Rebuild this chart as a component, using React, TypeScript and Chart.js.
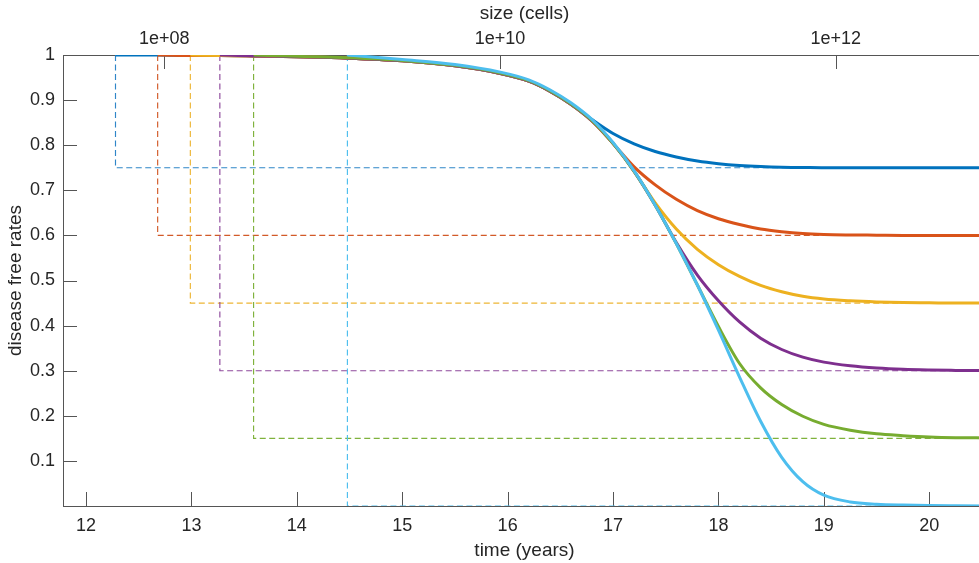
import React, { useEffect, useRef } from "react";
import { Chart, registerables } from "chart.js";

Chart.register(...registerables);

// ---- data ----
const timeGrid = [12.28, 12.68, 12.99, 13.27, 13.59, 14.0, 14.48, 15.0, 15.5, 15.93, 16.2, 16.4, 16.6, 16.8, 17.0, 17.2, 17.4, 17.6, 17.8, 18.0, 18.2, 18.4, 18.6, 18.8, 19.0, 19.25, 19.5, 19.75, 20.0, 20.25, 20.54];

const N = null;
const rate75 = [1.0, 1.0, 0.999, 0.999, 0.998, 0.996, 0.993, 0.987, 0.976, 0.959, 0.942, 0.92, 0.891, 0.857, 0.826, 0.803, 0.786, 0.774, 0.765, 0.759, 0.755, 0.7525, 0.751, 0.7505, 0.75, 0.75, 0.75, 0.75, 0.75, 0.75, 0.75];
const rate60 = [N, 1.0, 0.999, 0.999, 0.998, 0.996, 0.993, 0.987, 0.976, 0.959, 0.942, 0.92, 0.891, 0.854, 0.804, 0.752, 0.712, 0.68, 0.655, 0.637, 0.624, 0.614, 0.608, 0.604, 0.602, 0.601, 0.6005, 0.6, 0.6, 0.6, 0.6];
const rate45 = [N, N, 1.0, 0.999, 0.998, 0.996, 0.993, 0.987, 0.976, 0.959, 0.942, 0.92, 0.891, 0.854, 0.804, 0.742, 0.672, 0.614, 0.569, 0.535, 0.509, 0.489, 0.475, 0.465, 0.459, 0.455, 0.4525, 0.451, 0.4505, 0.45, 0.45];
const rate30 = [N, N, N, 1.0, 0.998, 0.996, 0.993, 0.987, 0.976, 0.959, 0.942, 0.92, 0.891, 0.854, 0.804, 0.742, 0.667, 0.584, 0.512, 0.455, 0.408, 0.372, 0.347, 0.33, 0.319, 0.311, 0.306, 0.303, 0.3015, 0.3007, 0.3];
const rate15 = [N, N, N, N, 1.0, 0.997, 0.994, 0.988, 0.977, 0.96, 0.943, 0.921, 0.892, 0.855, 0.804, 0.742, 0.667, 0.582, 0.49, 0.398, 0.316, 0.262, 0.225, 0.199, 0.181, 0.168, 0.16, 0.156, 0.153, 0.1515, 0.151];
const rate00 = [N, N, N, N, N, N, 1.0, 0.99, 0.979, 0.962, 0.945, 0.923, 0.894, 0.857, 0.806, 0.743, 0.667, 0.582, 0.49, 0.39, 0.286, 0.188, 0.108, 0.054, 0.024, 0.009, 0.004, 0.002, 0.001, 0.0005, 0.0];

const seriesValues = [rate75, rate60, rate45, rate30, rate15, rate00];
const startTimes = [12.28, 12.68, 12.99, 13.27, 13.59, 14.48];
const plateaus = [0.75, 0.6, 0.45, 0.3, 0.15, 0.0];
const seriesColors = ["#0072BD", "#D95319", "#EDB120", "#7E2F8E", "#77AC30", "#4DBEEE"];
const dashColors = ["#2F86C8", "#D25A28", "#EDB535", "#8E4A9C", "#7FB23C", "#4DBEEE"];

const bottomTicks = [12, 13, 14, 15, 16, 17, 18, 19, 20];
const bottomTickLabels = ["12", "13", "14", "15", "16", "17", "18", "19", "20"];
const topTickTimes = [12.743, 15.928, 19.113];
const topTickLabels = ["1e+08", "1e+10", "1e+12"];
const yTicks = [0.1, 0.2, 0.3, 0.4, 0.5, 0.6, 0.7, 0.8, 0.9, 1.0];
const yTickLabels = ["0.1", "0.2", "0.3", "0.4", "0.5", "0.6", "0.7", "0.8", "0.9", "1"];

const xMin = 11.782;
const xMax = 20.538;

const textColor = "#262626";
const axisColor = "#555555";
const FONT = '"Liberation Sans", Arial, Helvetica, sans-serif';

const inwardTicks = {
  id: "inwardTicks",
  beforeDatasetsDraw(chart: any) {
    const { ctx, chartArea: a, scales } = chart;
    const len = 14;
    ctx.save();
    ctx.strokeStyle = axisColor;
    ctx.lineWidth = 1;
    ctx.beginPath();
    scales.x.ticks.forEach((t: any) => {
      const p = Math.round(scales.x.getPixelForValue(t.value)) + 0.5;
      ctx.moveTo(p, a.bottom);
      ctx.lineTo(p, a.bottom - len);
    });
    scales.xTop.ticks.forEach((t: any) => {
      const p = Math.round(scales.xTop.getPixelForValue(t.value)) + 0.5;
      ctx.moveTo(p, a.top);
      ctx.lineTo(p, a.top + len);
    });
    scales.y.ticks.forEach((t: any) => {
      const p = Math.round(scales.y.getPixelForValue(t.value)) + 0.5;
      ctx.moveTo(a.left, p);
      ctx.lineTo(a.left + len, p);
    });
    ctx.stroke();
    ctx.restore();
  },
};

export default function App() {
  const ref = useRef<HTMLCanvasElement | null>(null);

  useEffect(() => {
    if (!ref.current) return;
    const solid = seriesValues.map((vals, i) => ({
      type: "line" as const,
      data: timeGrid
        .map((t, k) => ({ x: t, y: vals[k] }))
        .filter((p) => p.y !== null),
      borderColor: seriesColors[i],
      borderWidth: 3,
      pointRadius: 0,
      fill: false,
      cubicInterpolationMode: "monotone" as const,
      order: 5 - i,
    }));
    const dashed = startTimes.map((t0, i) => ({
      type: "line" as const,
      data: [
        { x: t0, y: 1 },
        { x: t0, y: plateaus[i] },
        { x: xMax, y: plateaus[i] },
      ],
      borderColor: dashColors[i],
      borderWidth: 1.15,
      borderDash: [6, 3.5],
      pointRadius: 0,
      fill: false,
      tension: 0,
      order: 20 - i,
    }));

    const tickFont = { family: FONT, size: 18 };
    const titleFont = { family: FONT, size: 19 };

    const chart = new Chart(ref.current, {
      type: "line",
      data: { datasets: [...dashed, ...solid] as any },
      options: {
        animation: false,
        responsive: false,
        events: [],
        layout: { padding: 0 },
        plugins: { legend: { display: false }, tooltip: { enabled: false } },
        scales: {
          x: {
            type: "linear",
            position: "bottom",
            min: xMin,
            max: xMax,
            afterBuildTicks: (s: any) => {
              s.ticks = bottomTicks.map((v) => ({ value: v }));
            },
            afterFit: (s: any) => {
              s.height = 57;
            },
            ticks: {
              autoSkip: false,
              maxRotation: 0,
              padding: 9,
              color: textColor,
              font: tickFont,
              callback: (_v: any, i: number) => bottomTickLabels[i],
            },
            grid: { display: true, drawOnChartArea: false, drawTicks: false },
            border: { display: true, color: axisColor, width: 1 },
            title: { display: true, text: "time (years)", color: textColor, font: titleFont, padding: { top: 0, bottom: 1 } },
          },
          xTop: {
            type: "linear",
            position: "top",
            min: xMin,
            max: xMax,
            afterBuildTicks: (s: any) => {
              s.ticks = topTickTimes.map((v) => ({ value: v }));
            },
            afterFit: (s: any) => {
              s.height = 55;
            },
            ticks: {
              autoSkip: false,
              maxRotation: 0,
              padding: 5,
              color: textColor,
              font: tickFont,
              callback: (_v: any, i: number) => topTickLabels[i],
            },
            grid: { display: true, drawOnChartArea: false, drawTicks: false },
            border: { display: true, color: axisColor, width: 1 },
            title: { display: true, text: "size (cells)", color: textColor, font: titleFont, padding: { top: 2, bottom: 0 } },
          },
          y: {
            type: "linear",
            position: "left",
            min: 0,
            max: 1,
            afterBuildTicks: (s: any) => {
              s.ticks = yTicks.map((v) => ({ value: v }));
            },
            afterFit: (s: any) => {
              s.width = 63;
            },
            ticks: {
              autoSkip: false,
              padding: 8,
              color: textColor,
              font: tickFont,
              callback: (_v: any, i: number) => yTickLabels[i],
            },
            grid: { display: true, drawOnChartArea: false, drawTicks: false },
            border: { display: true, color: axisColor, width: 1 },
            title: { display: true, text: "disease free rates", color: textColor, font: titleFont, padding: { top: 4, bottom: 0 } },
          },
        },
      } as any,
      plugins: [inwardTicks],
    });
    return () => chart.destroy();
  }, []);

  return (
    <div style={{ position: "fixed", left: 0, top: 0, width: 979, height: 563, overflow: "hidden", background: "#fff" }}>
      <canvas ref={ref} width={986} height={563} style={{ display: "block", width: 986, height: 563 }} />
    </div>
  );
}
